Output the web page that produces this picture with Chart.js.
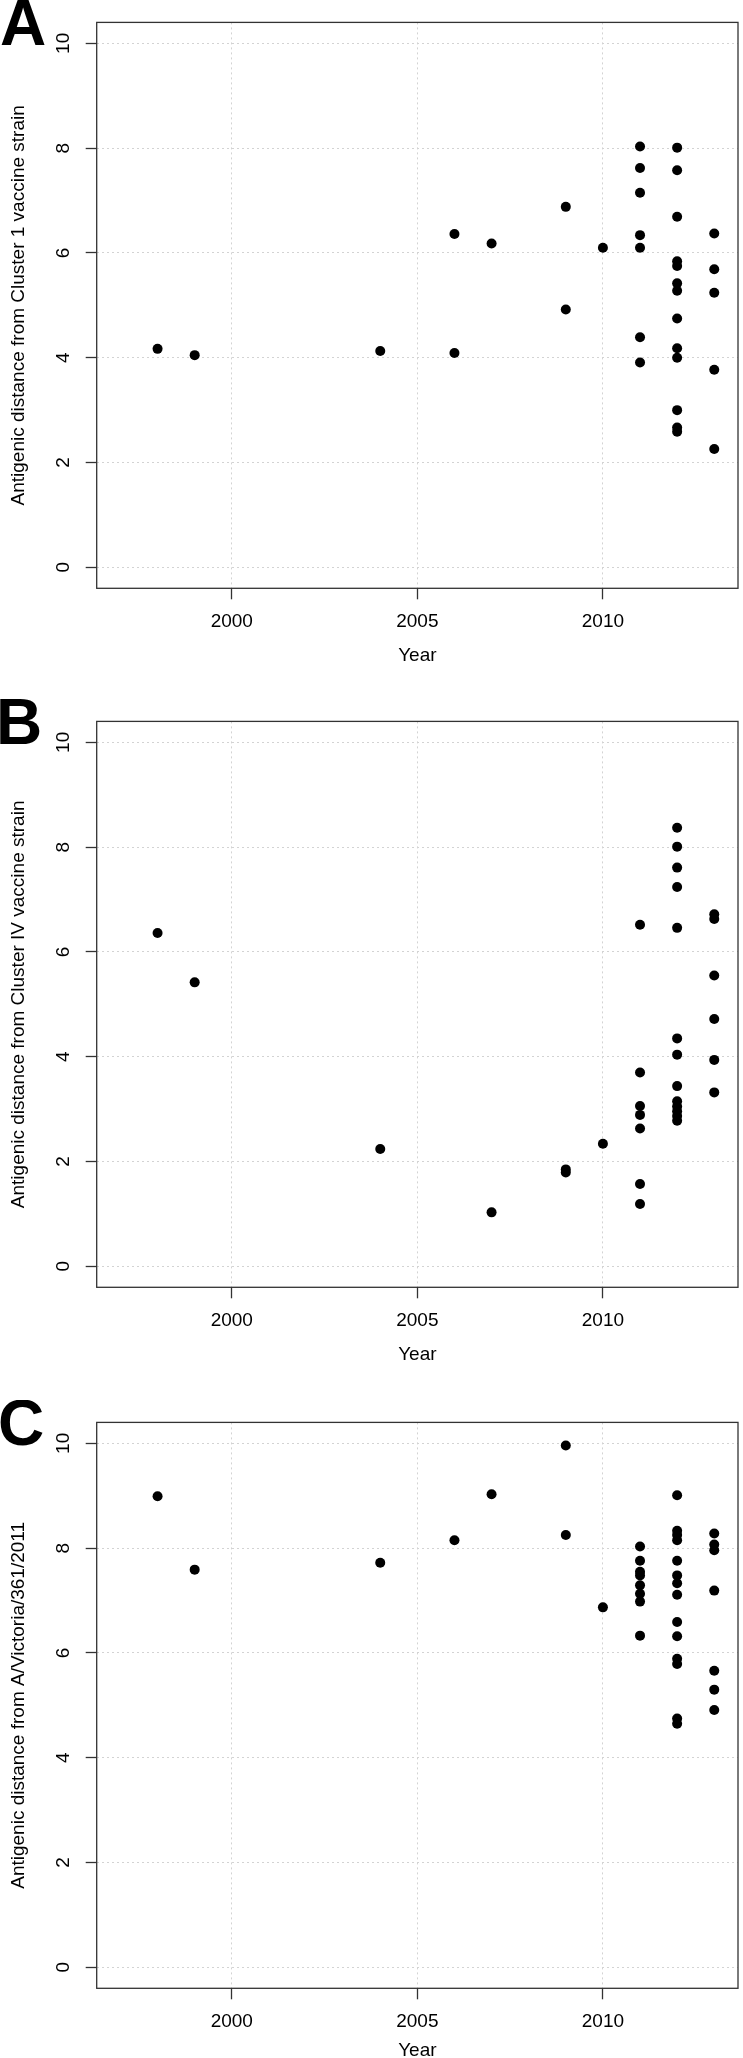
<!DOCTYPE html>
<html>
<head>
<meta charset="utf-8">
<script src="https://cdn.jsdelivr.net/npm/chart.js@4.4.1/dist/chart.umd.min.js"></script>
<style>
  html, body { margin: 0; padding: 0; background: #fff; overflow: hidden; }
  body { width: 743px; height: 2058px; position: relative; }
  canvas { position: absolute; left: 0; }
</style>
</head>
<body>
<canvas id="panelA" width="743" height="700" style="top:0px"></canvas>
<canvas id="panelB" width="743" height="700" style="top:699px"></canvas>
<canvas id="panelC" width="743" height="700" style="top:1400px"></canvas>
<script>
// tick labels
var yearTicks = [2000, 2005, 2010];
var distTicks = [0, 2, 4, 6, 8, 10];

// A - distance from Cluster 1 vaccine strain
var yearsA = [1998, 1999, 2004, 2006, 2006, 2007, 2009, 2009, 2010,
  2011, 2011, 2011, 2011, 2011, 2011, 2011,
  2012, 2012, 2012, 2012, 2012, 2012, 2012, 2012, 2012, 2012, 2012, 2012, 2012,
  2013, 2013, 2013, 2013, 2013];
var distA = [4.17, 4.05, 4.13, 6.36, 4.09, 6.18, 6.88, 4.92, 6.10,
  8.03, 7.62, 7.15, 6.34, 6.10, 4.39, 3.91,
  8.01, 7.58, 6.69, 5.84, 5.75, 5.42, 5.28, 4.75, 4.18, 4.00, 3.00, 2.67, 2.59,
  6.37, 5.69, 5.24, 3.77, 2.26];

// B - distance from Cluster IV vaccine strain
var yearsB = [1998, 1999, 2004, 2007, 2009, 2009, 2010,
  2011, 2011, 2011, 2011, 2011, 2011, 2011,
  2012, 2012, 2012, 2012, 2012, 2012, 2012, 2012, 2012, 2012, 2012, 2012, 2012,
  2013, 2013, 2013, 2013, 2013, 2013];
var distB = [6.36, 5.42, 2.24, 1.03, 1.85, 1.79, 2.34,
  6.52, 3.70, 3.06, 2.89, 2.63, 1.57, 1.19,
  8.37, 8.01, 7.61, 7.24, 6.46, 4.35, 4.04, 3.44, 3.15, 3.05, 2.96, 2.87, 2.78,
  6.72, 6.63, 5.55, 4.72, 3.94, 3.32];

// C - distance from A/Victoria/361/2011
var yearsC = [1998, 1999, 2004, 2006, 2007, 2009, 2009, 2010,
  2011, 2011, 2011, 2011, 2011, 2011, 2011, 2011,
  2012, 2012, 2012, 2012, 2012, 2012, 2012, 2012, 2012, 2012, 2012, 2012, 2012, 2012,
  2013, 2013, 2013, 2013, 2013, 2013, 2013];
var distC = [8.99, 7.59, 7.72, 8.15, 9.03, 9.96, 8.25, 6.87,
  8.03, 7.76, 7.55, 7.48, 7.29, 7.13, 6.98, 6.33,
  9.01, 8.33, 8.25, 8.15, 7.76, 7.48, 7.33, 7.11, 6.59, 6.32, 5.89, 5.79, 4.75, 4.65,
  8.28, 8.07, 7.96, 7.19, 5.66, 5.30, 4.91];

var fontFam = "'Liberation Sans', Arial, Helvetica, sans-serif";

// box round the plot area + panel letter
var framePlugin = {
  id: 'frame',
  afterDraw: function (chart) {
    var ctx = chart.ctx, a = chart.chartArea;
    var opt = chart.options.plugins.frame;
    ctx.save();
    ctx.strokeStyle = '#333';
    ctx.lineWidth = 1.3;
    ctx.strokeRect(a.left, a.top, a.right - a.left, a.bottom - a.top);
    ctx.fillStyle = '#000';
    ctx.font = 'bold 64px ' + fontFam;
    ctx.textBaseline = 'alphabetic';
    ctx.fillText(opt.letter, opt.dx, 45);
    ctx.restore();
  }
};

function makePanel(id, letter, dx, yTitle, titleGap, years, dists) {
  var pts = [];
  for (var i = 0; i < years.length; i++) {
    pts.push({ x: years[i], y: dists[i] });
  }
  var tickFont = { size: 19, family: fontFam };
  return new Chart(document.getElementById(id).getContext('2d'), {
    type: 'scatter',
    data: {
      datasets: [{
        data: pts,
        backgroundColor: '#000',
        borderWidth: 0,
        pointRadius: 5
      }]
    },
    options: {
      responsive: false,
      animation: false,
      devicePixelRatio: 1,
      layout: { padding: { top: 10.6, right: 1.5, left: 0, bottom: 0 } },
      plugins: {
        legend: { display: false },
        tooltip: { enabled: false },
        frame: { letter: letter, dx: dx }
      },
      scales: {
        x: {
          type: 'linear',
          min: 1996.36,
          max: 2013.64,
          afterBuildTicks: function (s) { s.ticks = yearTicks.map(function (v) { return { value: v }; }); },
          afterFit: function (s) { s.height = 111.7; },
          grid: { color: '#d3d3d3', lineWidth: 1, tickColor: '#333', tickLength: 11, tickWidth: 1.3 },
          border: { display: false, dash: [2, 3] },
          ticks: {
            color: '#000', font: tickFont, padding: 11, maxRotation: 0, autoSkip: false,
            callback: function (v) { return String(v); }
          },
          title: { display: true, text: 'Year', color: '#000', font: tickFont, padding: { top: 0, bottom: titleGap } }
        },
        y: {
          min: -0.4,
          max: 10.4,
          afterBuildTicks: function (s) { s.ticks = distTicks.map(function (v) { return { value: v }; }); },
          afterFit: function (s) { s.width = 96.7; },
          grid: { color: '#d3d3d3', lineWidth: 1, tickColor: '#333', tickLength: 11, tickWidth: 1.3 },
          border: { display: false, dash: [2, 3] },
          ticks: {
            color: '#000', font: tickFont, padding: 11, minRotation: 90, maxRotation: 90,
            crossAlign: 'center', callback: function (v) { return String(v); }
          },
          title: { display: true, text: yTitle, color: '#000', font: tickFont, padding: { top: 7.6, bottom: 0 } }
        }
      }
    },
    plugins: [framePlugin]
  });
}

makePanel('panelA', 'A', 0, 'Antigenic distance from Cluster 1 vaccine strain', 33, yearsA, distA);
makePanel('panelB', 'B', -4, 'Antigenic distance from Cluster IV vaccine strain', 33, yearsB, distB);
makePanel('panelC', 'C', -2, 'Antigenic distance from A/Victoria/361/2011', 38, yearsC, distC);
</script>
</body>
</html>
